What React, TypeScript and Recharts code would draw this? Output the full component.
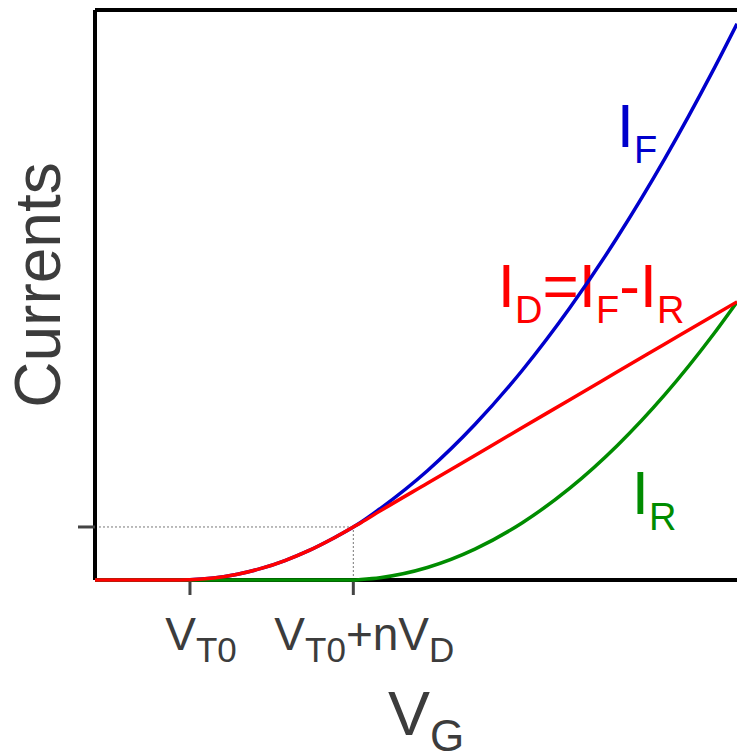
import { LineChart, Line, XAxis, YAxis, ReferenceLine, ReferenceDot } from "recharts";

// gate voltage samples (V_T0 = 1, V_T0 + nV_D = 2.72)
const VG = [0, 0.5, 0.9, 1.0, 1.25, 1.5, 1.75, 2.0, 2.25, 2.5, 2.72, 2.8, 3.0, 3.5, 4.0, 4.5, 5.0, 5.5, 6.0, 6.5, 6.76];
// forward, reverse and drain currents (tick level = 1)
const I_F = [0, 0, 0, 0.003, 0.036, 0.108, 0.218, 0.367, 0.554, 0.779, 1.0, 1.09, 1.343, 2.061, 2.932, 3.956, 5.133, 6.463, 7.946, 9.582, 10.49];
const I_R = [0, 0, 0, 0, 0, 0, 0, 0, 0, 0, 0, 0.01, 0.044, 0.236, 0.582, 1.081, 1.732, 2.537, 3.495, 4.606, 5.244];
const I_D = [0, 0, 0, 0.003, 0.036, 0.108, 0.218, 0.367, 0.554, 0.779, 1.0, 1.08, 1.299, 1.825, 2.35, 2.875, 3.401, 3.926, 4.451, 4.976, 5.246];

const X_TICKS = [1, 2.72];
const X_TICK_PARTS: [string, boolean][][] = [
  [["V", false], ["T0", true]],
  [["V", false], ["T0", true], ["+nV", false], ["D", true]],
];
const Y_TICKS = [1];
const X_MAX = 6.76;
const Y_MAX = 10.75;

const data = VG.map((v, i) => ({ vg: v, iF: I_F[i], iR: I_R[i], iD: I_D[i] }));

const FONT = "'Liberation Sans', Arial, sans-serif";
const GRAY = "#3c3c3c";
const BLUE = "#0000cc";
const RED = "#ff0000";
const GREEN = "#008c00";

// main text + subscripts
function SubText({ parts, size, subSize, drop }: { parts: [string, boolean][]; size: number; subSize: number; drop: number }) {
  let low = false;
  return (
    <>
      {parts.map(([s, sub], i) => {
        const dy = sub && !low ? drop : !sub && low ? -drop : 0;
        low = sub;
        return (
          <tspan key={i} fontSize={sub ? subSize : size} dy={dy}>
            {s}
          </tspan>
        );
      })}
    </>
  );
}

const XTick = (props: any) => {
  const { x, y, payload } = props;
  const parts = X_TICK_PARTS[X_TICKS.indexOf(payload.value)] ?? [];
  return (
    <text x={x + 11} y={y + 53} textAnchor="middle" fill={GRAY} fontFamily={FONT}>
      <SubText parts={parts} size={46} subSize={35} drop={12} />
    </text>
  );
};

const XLabel = (props: any) => {
  const vb = props.viewBox ?? { x: 95, y: 580 };
  return (
    <text x={388} y={vb.y + 155} fill={GRAY} fontFamily={FONT}>
      <SubText parts={[["V", false], ["G", true]]} size={63} subSize={44} drop={16} />
    </text>
  );
};

const YLabel = (props: any) => {
  const vb = props.viewBox ?? { x: 0, y: 10, height: 570 };
  const cy = vb.y + 275;
  return (
    <text transform={`translate(60, ${cy}) rotate(-90)`} textAnchor="middle" fill={GRAY} fontFamily={FONT} fontSize={64}>
      Currents
    </text>
  );
};

// curve name placed with its baseline at the dot
const curveName = (parts: [string, boolean][], color: string) => (props: any) => {
  const vb = props.viewBox ?? { x: 0, y: 0 };
  return (
    <text x={vb.x} y={vb.y} fill={color} fontFamily={FONT}>
      <SubText parts={parts} size={62} subSize={38} drop={16} />
    </text>
  );
};

export default function App() {
  return (
    <div style={{ position: "absolute", left: 0, top: 0, background: "#fff" }}>
      <LineChart width={737} height={752} data={data} margin={{ top: 10, right: 0, left: 0, bottom: 0 }}>
        <XAxis
          dataKey="vg"
          type="number"
          domain={[0, X_MAX]}
          ticks={X_TICKS}
          height={172}
          axisLine={{ stroke: "#000", strokeWidth: 4 }}
          tickLine={{ stroke: "#444", strokeWidth: 3 }}
          tickSize={15}
          tick={<XTick />}
          label={<XLabel />}
        />
        <YAxis
          type="number"
          domain={[0, Y_MAX]}
          ticks={Y_TICKS}
          width={95}
          axisLine={{ stroke: "#000", strokeWidth: 4 }}
          tickLine={{ stroke: "#444", strokeWidth: 3 }}
          tickSize={17}
          tickFormatter={() => ""}
          label={<YLabel />}
        />
        <ReferenceLine y={Y_MAX} stroke="#000" strokeWidth={4} />
        <ReferenceLine
          segment={[{ x: 0, y: 1 }, { x: 2.72, y: 1 }]}
          stroke="#777"
          strokeWidth={1}
          strokeDasharray="2 2"
        />
        <ReferenceLine
          segment={[{ x: 2.72, y: 0 }, { x: 2.72, y: 1 }]}
          stroke="#777"
          strokeWidth={1}
          strokeDasharray="2 2"
        />
        {/* curves sit above the axis lines so the flat parts show on the x axis */}
        <Line type="monotone" dataKey="iF" stroke={BLUE} strokeWidth={3.5} dot={false} isAnimationActive={false} zIndex={700} />
        <Line type="monotone" dataKey="iR" stroke={GREEN} strokeWidth={3.5} dot={false} isAnimationActive={false} zIndex={710} />
        <Line type="monotone" dataKey="iD" stroke={RED} strokeWidth={3.5} dot={false} isAnimationActive={false} zIndex={720} />
        <ReferenceDot x={5.495} y={8.17} r={0} fill="none" stroke="none" label={curveName([["I", false], ["F", true]], BLUE)} />
        <ReferenceDot
          x={4.242}
          y={5.149}
          r={0}
          fill="none"
          stroke="none"
          label={curveName([["I", false], ["D", true], ["=I", false], ["F", true], ["-I", false], ["R", true]], RED)}
        />
        <ReferenceDot x={5.653} y={1.245} r={0} fill="none" stroke="none" label={curveName([["I", false], ["R", true]], GREEN)} />
      </LineChart>
    </div>
  );
}
